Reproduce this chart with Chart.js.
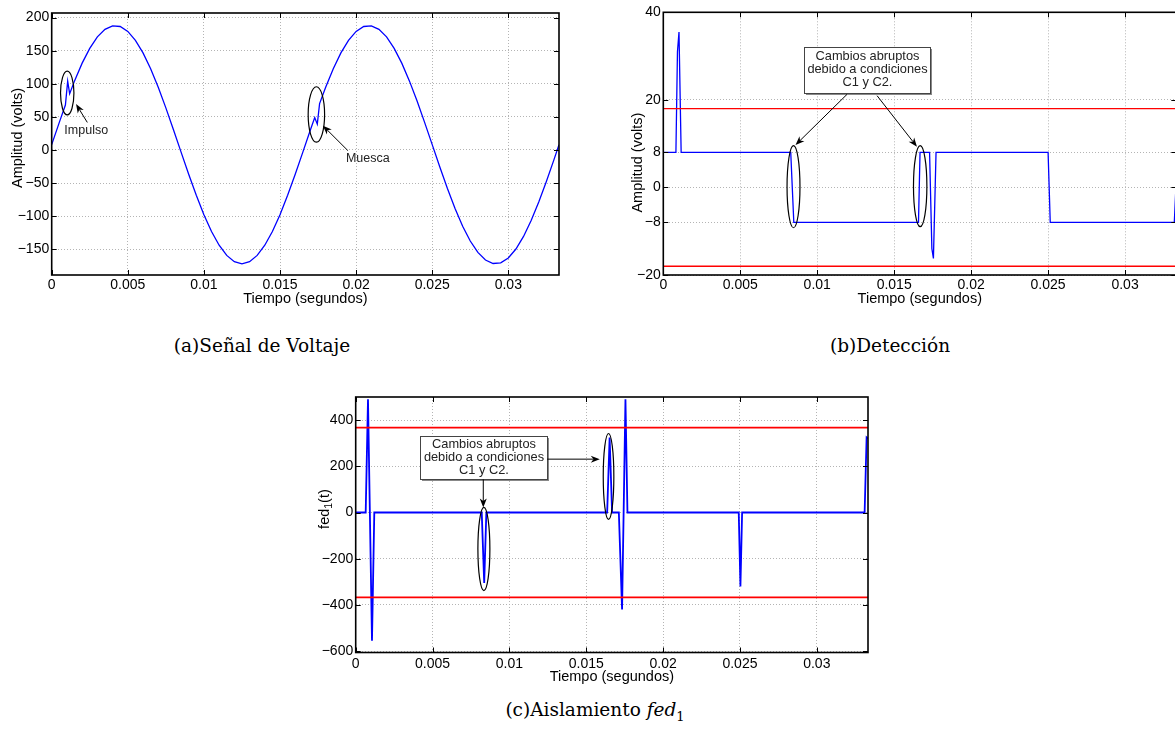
<!DOCTYPE html>
<html>
<head>
<meta charset="utf-8">
<script src="https://cdn.jsdelivr.net/npm/chart.js@4.4.1/dist/chart.umd.min.js"></script>
<style>
html, body { margin: 0; padding: 0; background: #fff; overflow: hidden; width: 1175px; height: 734px; }
canvas { position: absolute; }
.cap { position: absolute; font-family: 'DejaVu Serif', serif; font-size: 18.5px; color: #000; white-space: nowrap; transform: translateX(-50%); }
.cap sub { font-size: 13px; }
</style>
</head>
<body>
<canvas id="chartA" width="580" height="320" style="left:0;top:0"></canvas>
<canvas id="chartB" width="595" height="320" style="left:590px;top:0"></canvas>
<canvas id="chartC" width="580" height="310" style="left:300px;top:385px"></canvas>
<div class="cap" style="left:262px;top:335px">(a)Señal de Voltaje</div>
<div class="cap" style="left:890px;top:335px">(b)Detección</div>
<div class="cap" style="left:595px;top:699px">(c)Aislamiento <i>fed</i><sub>1</sub></div>

<script>
// time axis (seconds), two cycles of 60 Hz
const T_END = 0.03333;
const timeTicks = [0, 0.005, 0.01, 0.015, 0.02, 0.025, 0.03];

// (a) voltage signal with an impulse near 1 ms and a notch near 17.5 ms
const timeA = [0, 0.0005, 0.0009, 0.00105, 0.00118, 0.0015, 0.002, 0.0025, 0.003, 0.0035,
  0.004, 0.0045, 0.005, 0.0055, 0.006, 0.0065, 0.007, 0.0075, 0.008, 0.0085,
  0.009, 0.0095, 0.01, 0.0105, 0.011, 0.0115, 0.012, 0.0125, 0.013, 0.0135,
  0.014, 0.0145, 0.015, 0.0155, 0.016, 0.0165, 0.017, 0.01728, 0.01745, 0.0176,
  0.018, 0.0185, 0.019, 0.0195, 0.02, 0.0205, 0.021, 0.0215, 0.022, 0.0225,
  0.023, 0.0235, 0.024, 0.0245, 0.025, 0.0255, 0.026, 0.0265, 0.027, 0.0275,
  0.028, 0.0285, 0.029, 0.0295, 0.03, 0.0305, 0.031, 0.0315, 0.032, 0.0325,
  0.033, 0.03333];
const voltA = [8, 41.7, 67.9, 104, 85, 104.4, 131.2, 153.6, 170.9, 182.3,
  187.6, 186.6, 179.2, 165.7, 146.7, 122.7, 94.7, 63.6, 30.6, -3.3,
  -36.8, -68.6, -97.8, -123.2, -144.0, -159.4, -168.8, -172.0, -168.8, -159.4,
  -144.0, -123.2, -97.8, -68.6, -36.8, -3.3, 30.6, 49, 39, 70,
  94.7, 122.7, 146.7, 165.7, 179.2, 186.6, 187.6, 182.3, 170.9, 153.6,
  131.2, 104.4, 74.3, 41.7, 8.0, -25.7, -58.3, -88.4, -115.2, -137.6,
  -154.9, -166.3, -171.6, -170.6, -163.2, -149.7, -130.7, -106.7, -78.7, -47.6,
  -14.6, 8];
const ticksA = [-150, -100, -50, 0, 50, 100, 150, 200];

// (b) detection signal and thresholds
const timeB = [0, 0.00082, 0.00092, 0.00102, 0.00116, 0.00828, 0.00848, 0.01658, 0.01668, 0.0173,
  0.01745, 0.01755, 0.01772, 0.025, 0.02514, 0.0332, 0.03333];
const levelB = [8, 8, 31, 35.5, 8, 8, -8, -8, 8, 8,
  -14, -16.2, 8, 8, -8, -8, 2];
const thresholdB = [18, -18];
const ticksB = [-20, -8, 0, 8, 20, 40];

// (c) isolation fed1 and thresholds
const timeC = [0, 0.00065, 0.0008, 0.00106, 0.00121, 0.0082, 0.00836, 0.0085, 0.01636, 0.01652,
  0.01668, 0.01712, 0.01733, 0.01755, 0.01768, 0.02492, 0.02503, 0.02514, 0.03311, 0.03324,
  0.03333];
const fedC = [0, 0, 490, -555, 0, 0, -305, 0, 0, 325,
  0, 0, -420, 490, 0, 0, -320, 0, 0, 325,
  320];
const thresholdC = [367, -367];
const ticksC = [-600, -400, -200, 0, 200, 400];

const noteLines = ['Cambios abruptos', 'debido a condiciones', 'C1 y C2.'];

const FONT = "'Liberation Sans', Arial, sans-serif";
Chart.defaults.font.family = FONT;
Chart.defaults.color = '#000';

function pts(xs, ys) {
  return xs.map((x, i) => ({ x: x, y: ys[i] }));
}
function hline(v) {
  return [{ x: 0, y: v }, { x: T_END, y: v }];
}
function fmt(v) {
  return v < 0 ? '\u2212' + String(-v) : String(v);
}

function drawArrow(ctx, x1, y1, x2, y2) {
  const ang = Math.atan2(y2 - y1, x2 - x1);
  const len = 9, half = 3.5;
  const c = Math.cos(ang), s = Math.sin(ang);
  ctx.beginPath();
  ctx.moveTo(x1, y1);
  ctx.lineTo(x2 - c * len * 0.7, y2 - s * len * 0.7);
  ctx.stroke();
  ctx.beginPath();
  ctx.moveTo(x2, y2);
  ctx.lineTo(x2 - c * len - s * half, y2 - s * len + c * half);
  ctx.lineTo(x2 - c * len * 0.7, y2 - s * len * 0.7);
  ctx.lineTo(x2 - c * len + s * half, y2 - s * len - c * half);
  ctx.closePath();
  ctx.fill();
}

const matlabAxes = {
  id: 'matlabAxes',
  afterDraw(chart, args, opts) {
    const { ctx, chartArea: a, scales: { x, y } } = chart;
    ctx.save();
    // inward tick marks on all four sides
    ctx.strokeStyle = '#000';
    ctx.lineWidth = 1;
    ctx.beginPath();
    x.ticks.forEach(t => {
      const px = Math.round(x.getPixelForValue(t.value)) + 0.5;
      ctx.moveTo(px, a.bottom); ctx.lineTo(px, a.bottom - 5);
      ctx.moveTo(px, a.top); ctx.lineTo(px, a.top + 5);
    });
    y.ticks.forEach(t => {
      const py = Math.round(y.getPixelForValue(t.value)) + 0.5;
      ctx.moveTo(a.left, py); ctx.lineTo(a.left + 5, py);
      ctx.moveTo(a.right, py); ctx.lineTo(a.right - 5, py);
    });
    ctx.stroke();
    ctx.lineWidth = 1.6;
    ctx.strokeRect(a.left, a.top, a.right - a.left, a.bottom - a.top);

    // annotations, placed in data units
    ctx.lineWidth = 1.2;
    ctx.fillStyle = '#000';
    (opts.notes || []).forEach(n => {
      if (n.type === 'ellipse') {
        const cx = x.getPixelForValue(n.x), cy = y.getPixelForValue(n.y);
        const rx = Math.abs(x.getPixelForValue(n.x + n.rx) - cx);
        const ry = Math.abs(y.getPixelForValue(n.y + n.ry) - cy);
        ctx.beginPath();
        ctx.ellipse(cx, cy, rx, ry, 0, 0, Math.PI * 2);
        ctx.stroke();
      } else if (n.type === 'arrow') {
        ctx.lineWidth = 1;
        drawArrow(ctx, x.getPixelForValue(n.x1), y.getPixelForValue(n.y1),
          x.getPixelForValue(n.x2), y.getPixelForValue(n.y2));
        ctx.lineWidth = 1.2;
      } else if (n.type === 'text') {
        ctx.font = '12.5px ' + FONT;
        ctx.fillStyle = '#222';
        ctx.textAlign = 'center';
        ctx.textBaseline = 'middle';
        ctx.fillText(n.text, x.getPixelForValue(n.x), y.getPixelForValue(n.y));
        ctx.fillStyle = '#000';
      } else if (n.type === 'box') {
        const bx1 = Math.round(x.getPixelForValue(n.x1)) + 0.5, bx2 = Math.round(x.getPixelForValue(n.x2)) + 0.5;
        const by1 = Math.round(y.getPixelForValue(n.y1)) + 0.5, by2 = Math.round(y.getPixelForValue(n.y2)) + 0.5;
        ctx.fillStyle = '#888';
        ctx.fillRect(bx1 + 1.5, by1 + 1.5, bx2 - bx1, by2 - by1);
        ctx.fillStyle = '#fff';
        ctx.fillRect(bx1, by1, bx2 - bx1, by2 - by1);
        ctx.strokeStyle = '#444';
        ctx.lineWidth = 1;
        ctx.strokeRect(bx1, by1, bx2 - bx1, by2 - by1);
        ctx.strokeStyle = '#000';
        ctx.fillStyle = '#222';
        ctx.font = '12.8px ' + FONT;
        ctx.textAlign = 'center';
        ctx.textBaseline = 'middle';
        const mx = (bx1 + bx2) / 2, my = (by1 + by2) / 2;
        n.lines.forEach((s, i) => ctx.fillText(s, mx, my - 1 + (i - 1) * 13));
        ctx.fillStyle = '#000';
        ctx.lineWidth = 1.2;
      }
    });

    // axis titles
    ctx.fillStyle = '#000';
    ctx.font = '14.5px ' + FONT;
    ctx.textAlign = 'center';
    ctx.textBaseline = 'middle';
    ctx.fillText('Tiempo (segundos)', (a.left + a.right) / 2, a.bottom + 24);
    const yt = opts.yTitle;
    ctx.translate(a.left + yt.dx, (a.top + a.bottom) / 2 + yt.dy);
    ctx.rotate(-Math.PI / 2);
    if (yt.sub) {
      const w1 = ctx.measureText(yt.text).width;
      ctx.font = '10.5px ' + FONT;
      const w2 = ctx.measureText(yt.sub).width;
      ctx.font = '14.5px ' + FONT;
      const w3 = ctx.measureText(yt.tail).width;
      const sx = -(w1 + w2 + w3) / 2;
      ctx.textAlign = 'left';
      ctx.fillText(yt.text, sx, 0);
      ctx.font = '10.5px ' + FONT;
      ctx.fillText(yt.sub, sx + w1, 4);
      ctx.font = '14.5px ' + FONT;
      ctx.fillText(yt.tail, sx + w1 + w2, 0);
    } else {
      ctx.fillText(yt.text, 0, 0);
    }
    ctx.restore();
  }
};

function axisOpts(ticks, min, max, fitSize, isX, pad) {
  return {
    type: 'linear',
    min: min,
    max: max,
    afterBuildTicks: s => { s.ticks = ticks.map(v => ({ value: v })); },
    afterFit: s => { if (isX) s.height = fitSize; else s.width = fitSize; },
    grid: { color: '#b4b4b4', lineWidth: 1, drawTicks: false },
    border: { display: false, dash: [1, 2] },
    ticks: { autoSkip: false, maxRotation: 0, padding: pad, color: '#000',
      font: { size: 14 }, callback: v => fmt(v) }
  };
}

function makeChart(id, datasets, cfg) {
  return new Chart(document.getElementById(id), {
    type: 'line',
    data: { datasets: datasets },
    options: {
      responsive: false,
      animation: false,
      devicePixelRatio: 1,
      events: [],
      layout: { padding: cfg.padding },
      elements: { point: { radius: 0 }, line: { tension: 0 } },
      plugins: {
        legend: { display: false },
        tooltip: { enabled: false },
        matlabAxes: { notes: cfg.notes, yTitle: cfg.yTitle }
      },
      scales: {
        x: axisOpts(timeTicks, 0, T_END, cfg.xHeight, true, cfg.xPad),
        y: axisOpts(cfg.yTicks, cfg.yMin, cfg.yMax, cfg.yWidth, false, 2.5)
      }
    },
    plugins: [matlabAxes]
  });
}

const blue = '#0000ff', red = '#ff0000';

makeChart('chartA', [
  { data: pts(timeA, voltA), borderColor: blue, borderWidth: 1.3 }
], {
  padding: { left: 0, right: 21, top: 13, bottom: 0 },
  xHeight: 45, yWidth: 51.7, xPad: 2,
  yTicks: ticksA, yMin: -189, yMax: 207,
  yTitle: { text: 'Amplitud (volts)', dx: -34, dy: -6 },
  notes: [
    { type: 'ellipse', x: 0.00102, y: 86, rx: 0.00044, ry: 33 },
    { type: 'arrow', x1: 0.00234, y1: 41.6, x2: 0.0016, y2: 69.4 },
    { type: 'text', x: 0.00227, y: 29, text: 'Impulso' },
    { type: 'ellipse', x: 0.01739, y: 53.6, rx: 0.00054, ry: 41.9 },
    { type: 'arrow', x1: 0.01946, y1: -1, x2: 0.01782, y2: 36.7 },
    { type: 'text', x: 0.02077, y: -13.6, text: 'Muesca' }
  ]
});

makeChart('chartB', [
  { data: hline(thresholdB[0]), borderColor: red, borderWidth: 1.3 },
  { data: hline(thresholdB[1]), borderColor: red, borderWidth: 1.3 },
  { data: pts(timeB, levelB), borderColor: blue, borderWidth: 1.3 }
], {
  padding: { left: 0, right: 8.7, top: 12.3, bottom: 0 },
  xHeight: 45, yWidth: 73.3, xPad: 2,
  yTicks: ticksB, yMin: -20, yMax: 40,
  yTitle: { text: 'Amplitud (volts)', dx: -25.5, dy: 19 },
  notes: [
    { type: 'box', x1: 0.00914, x2: 0.01735, y1: 32.0, y2: 21.5, lines: noteLines },
    { type: 'arrow', x1: 0.01194, y1: 21.27, x2: 0.00859, y2: 9.69 },
    { type: 'arrow', x1: 0.01389, y1: 20.95, x2: 0.01648, y2: 9.3 },
    { type: 'ellipse', x: 0.00846, y: 0.16, rx: 0.00042, ry: 9.37 },
    { type: 'ellipse', x: 0.01669, y: 0.28, rx: 0.000435, ry: 9.25 }
  ]
});

makeChart('chartC', [
  { data: hline(thresholdC[0]), borderColor: red, borderWidth: 1.8 },
  { data: hline(thresholdC[1]), borderColor: red, borderWidth: 1.8 },
  { data: pts(timeC, fedC), borderColor: blue, borderWidth: 1.8 }
], {
  padding: { left: 0, right: 12, top: 12, bottom: 0 },
  xHeight: 42.5, yWidth: 55.7, xPad: 3,
  yTicks: ticksC, yMin: -606, yMax: 500,
  yTitle: { text: 'fed', sub: '1', tail: '(t)', dx: -30.7, dy: -15.7 },
  notes: [
    { type: 'box', x1: 0.00418, x2: 0.01246, y1: 332, y2: 143.3, lines: noteLines },
    { type: 'arrow', x1: 0.0083, y1: 143.3, x2: 0.0083, y2: 22 },
    { type: 'arrow', x1: 0.01246, y1: 231, x2: 0.01588, y2: 231 },
    { type: 'ellipse', x: 0.00834, y: -158, rx: 0.00039, ry: 180 },
    { type: 'ellipse', x: 0.01645, y: 156, rx: 0.000345, ry: 186 }
  ]
});
</script>
</body>
</html>
